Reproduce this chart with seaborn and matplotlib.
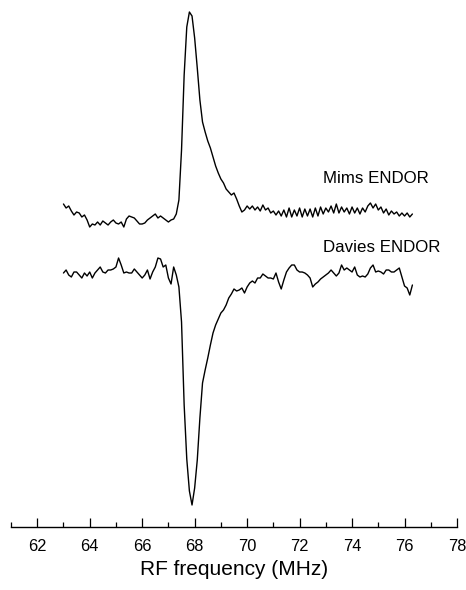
import matplotlib
matplotlib.use("Agg")
import matplotlib.pyplot as plt
import pandas as pd
import seaborn as sns
from matplotlib.ticker import MultipleLocator

# RF frequency grid (MHz)
freq = [63.0, 63.1, 63.2, 63.3, 63.4, 63.5, 63.6, 63.7, 63.8, 63.9,
        64.0, 64.1, 64.2, 64.3, 64.4, 64.5, 64.6, 64.7, 64.8, 64.9,
        65.0, 65.1, 65.2, 65.3, 65.4, 65.5, 65.6, 65.7, 65.8, 65.9,
        66.0, 66.1, 66.2, 66.3, 66.4, 66.5, 66.6, 66.7, 66.8, 66.9,
        67.0, 67.1, 67.2, 67.3, 67.4, 67.5, 67.6, 67.7, 67.8, 67.9,
        68.0, 68.1, 68.2, 68.3, 68.4, 68.5, 68.6, 68.7, 68.8, 68.9,
        69.0, 69.1, 69.2, 69.3, 69.4, 69.5, 69.6, 69.7, 69.8, 69.9,
        70.0, 70.1, 70.2, 70.3, 70.4, 70.5, 70.6, 70.7, 70.8, 70.9,
        71.0, 71.1, 71.2, 71.3, 71.4, 71.5, 71.6, 71.7, 71.8, 71.9,
        72.0, 72.1, 72.2, 72.3, 72.4, 72.5, 72.6, 72.7, 72.8, 72.9,
        73.0, 73.1, 73.2, 73.3, 73.4, 73.5, 73.6, 73.7, 73.8, 73.9,
        74.0, 74.1, 74.2, 74.3, 74.4, 74.5, 74.6, 74.7, 74.8, 74.9,
        75.0, 75.1, 75.2, 75.3, 75.4, 75.5, 75.6, 75.7, 75.8, 75.9,
        76.0, 76.1, 76.2, 76.3]

# Mims ENDOR intensity (arb. units)
mims = [16, 12, 14, 9, 5, 8, 7, 3, 5, 0,
        -7, -4, -5, -2, -5, -1, -3, -5, -2, 0,
        -3, -4, -2, -7, 1, 4, 3, 2, -1, -4,
        -4, -3, 0, 2, 4, 6, 2, 4, 2, 0,
        -2, 0, 1, 6, 20, 70, 145, 193, 208, 204,
        182, 152, 120, 98, 88, 79, 72, 63, 54, 47,
        41, 37, 31, 28, 25, 27, 21, 14, 8, 10,
        14, 11, 14, 10, 13, 9, 15, 10, 12, 7,
        9, 5, 9, 4, 10, 3, 12, 3, 10, 4,
        12, 3, 11, 4, 11, 3, 12, 4, 13, 6,
        12, 8, 14, 7, 16, 7, 13, 8, 12, 6,
        13, 7, 12, 6, 12, 8, 14, 17, 12, 16,
        10, 13, 7, 11, 5, 9, 6, 8, 4, 7,
        4, 7, 3, 6]

# Davies ENDOR intensity (arb. units)
davies = [2, 5, 0, -2, 3, 3, 0, -3, 2, -1,
          3, -3, 2, 5, 8, 3, 2, 5, 5, 6,
          8, 17, 10, 2, 3, 2, 2, 6, 3, 0,
          -3, 0, 5, -4, 3, 8, 17, 16, 8, 10,
          -3, -9, 8, 0, -12, -47, -130, -184, -216, -230,
          -213, -185, -143, -108, -95, -83, -70, -58, -50, -44,
          -38, -35, -30, -23, -19, -14, -16, -15, -13, -18,
          -12, -8, -6, -8, -3, -3, 1, -1, -3, -3,
          -4, 2, -7, -14, -5, 3, 7, 10, 10, 5,
          3, 3, 2, 0, -3, -12, -9, -7, -4, -2,
          0, 2, 5, 2, -1, 2, 10, 5, 7, 5,
          3, 8, 0, -2, -1, -2, 1, 7, 10, 3,
          4, 3, 1, 5, 5, 3, 3, 5, 7, -2,
          -11, -13, -20, -10]

series_names = ["Mims ENDOR", "Davies ENDOR"]
xticks = [62, 64, 66, 68, 70, 72, 74, 76, 78]
xlabel = "RF frequency (MHz)"

sns.set_theme(style="white")
plt.rcParams['font.family'] = ['Liberation Sans', 'DejaVu Sans']

fig = plt.figure(figsize=(4.66, 5.90), dpi=100)
ax = fig.add_axes([11 / 466, 63 / 590, 446 / 466, 527 / 590])

offsets = [307, 252]
label_y = [343.7, 274.7]
for name, vals, off, ly in zip(series_names, [mims, davies], offsets, label_y):
    df = pd.DataFrame({"freq": freq, "signal": [v + off for v in vals]})
    sns.lineplot(data=df, x="freq", y="signal", color="black", lw=1.0,
                 ax=ax, estimator=None, sort=False)
    ax.text(72.89, ly, name, ha="left", va="baseline", fontsize=12.2, color="black")

ax.set_xlim(61, 78)
ax.set_ylim(0, 527)
ax.set_xticks(xticks)
ax.set_xticklabels([str(t) for t in xticks])
ax.xaxis.set_minor_locator(MultipleLocator(1))
ax.set_yticks([])
ax.set_ylabel("")
ax.set_xlabel(xlabel, fontsize=15, labelpad=4.5, color="black")
for s in ["top", "left", "right"]:
    ax.spines[s].set_visible(False)
ax.spines["bottom"].set_color("black")
ax.spines["bottom"].set_linewidth(1.0)
ax.tick_params(axis="x", which="major", direction="in", length=6.5, width=0.9,
               colors="black", labelsize=11.8, pad=8.3, bottom=True)
ax.tick_params(axis="x", which="minor", direction="in", length=3.6, width=0.9,
               colors="black", bottom=True)
ax.patch.set_alpha(0)

fig.savefig("out.png", dpi=100)
